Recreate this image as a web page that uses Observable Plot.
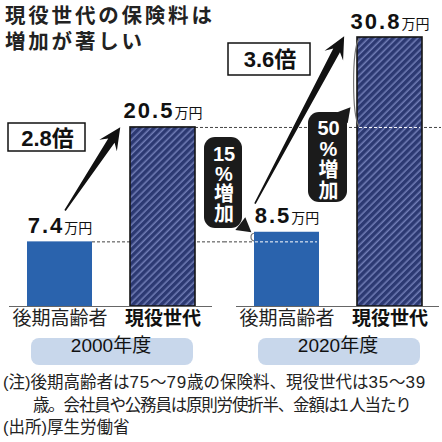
<!DOCTYPE html>
<html><head><meta charset="utf-8">
<script src="https://cdn.jsdelivr.net/npm/d3@7"></script>
<script src="https://cdn.jsdelivr.net/npm/@observablehq/plot@0.6"></script>
<style>
body{margin:0;background:#fff;font-family:"Noto Sans CJK JP",sans-serif;}
#wrap{position:relative;width:442px;height:442px;overflow:hidden;background:#fff}
.tl{position:absolute;left:5px;font-size:20.5px;letter-spacing:2.8px;line-height:21px;color:#222;font-weight:700;white-space:nowrap}
#notes{position:absolute;left:3px;top:371px;font-size:16.5px;line-height:21.5px;color:#222;white-space:nowrap;}
#notes .ind{padding-left:30px;letter-spacing:-1.2px}
#notes .num{font-family:"Liberation Sans",sans-serif;font-size:17px;letter-spacing:0.8px}
#notes .p{font-family:"Liberation Sans",sans-serif;}
</style></head><body>
<div id="wrap"><div id="chart"></div><div id="t1" class="tl" style="top:4.3px"></div><div id="t2" class="tl" style="top:29.8px"></div><div id="notes"></div></div>
<script>
// ---- data ----
const years = ["2000年度", "2020年度"];
const groups = ["後期高齢者", "現役世代"];
const premium2000 = [7.4, 20.5];
const premium2020 = [8.5, 30.8];
const unit = "万円";
const ratioText = ["2.8倍", "3.6倍"];
const increaseText = [["15", "%", "増", "加"], ["50", "%", "増", "加"]];
const titleLines = ["現役世代の保険料は", "増加が著しい"];
const noteLines = ["(注)後期高齢者は75〜79歳の保険料、現役世代は35〜39", "歳。会社員や公務員は原則労使折半、金額は1人当たり", "(出所)厚生労働省"];

// arrow annotations (from small bar label to large bar)
const arrowIds = ["a2000", "a2020"];
const arrowY1 = [10.12, 18.67];
const arrowY2 = [27.91, 40.79];
const arrowT0 = [0.049, -0.311];
const arrowT1 = [0.585, 0.555];

// ---- tables ----
const rows = [];
[premium2000, premium2020].forEach((vals, i) =>
  groups.forEach((g, j) => rows.push({year: years[i], group: g, value: vals[j]})));
const senior = rows.filter(d => d.group === groups[0]);
const working = rows.filter(d => d.group === groups[1]);
const yearRows = years.map(y => ({year: y}));
const arrows = years.map((y, i) => ({year: y, id: arrowIds[i], from: groups[0], to: groups[1], v1: arrowY1[i], v2: arrowY2[i], t0: arrowT0[i], t1: arrowT1[i]}));
const brackets = [
  {year: years[1], id: "b1", g: groups[1], a: premium2020[1], b: premium2000[1], bulge: 4.5},
  {year: years[1], id: "b2", g: groups[0], a: premium2020[0], b: premium2000[0], bulge: 2.5}
];

const FONT = "'Liberation Sans','Noto Sans CJK JP',sans-serif";
const dash = {strokeDasharray: "3,2", strokeWidth: 1};
const one = (i, extra = {}) => [{year: years[i], ...extra}];

// bubble text placement (per facet): centre offset, first line offset, line pitch
const bubbleDx = [214.5, 92];
const bubbleDy = [117, 91];
const bubblePitch = [20, 21];
const bubbleTextMarks = [];
increaseText.forEach((parts, b) => parts.forEach((t, k) => {
  bubbleTextMarks.push(Plot.text(one(b, {t}), {fx: "year", text: "t", frameAnchor: "top-left", textAnchor: "middle", lineAnchor: "middle",
    dx: bubbleDx[b], dy: bubbleDy[b] + k * bubblePitch[b], fontSize: 20, fontWeight: "bold", fill: "white"}));
}));

const chart = Plot.plot({
  width: 442, height: 372,
  marginTop: 37, marginBottom: 66, marginLeft: 8, marginRight: 2,
  style: {fontFamily: FONT, background: "transparent", overflow: "visible"},
  fx: {domain: years, paddingInner: 0.105, paddingOuter: 0, axis: null, label: null},
  x: {domain: groups, paddingInner: 0.37, paddingOuter: 0.17, axis: null, label: null},
  y: {domain: [0, 30.8], axis: null, label: null},
  marks: [
    // separator
    Plot.rect(one(0), {fx: "year", insetLeft: 214.5, insetRight: -11.5, insetTop: -4, insetBottom: -26, fill: "#9a9a9a"}),
    // grey dashed reference lines
    Plot.ruleY(one(0, {v: premium2000[0]}), {fx: "year", y: "v", insetLeft: 83, insetRight: -12, stroke: "#444", ...dash}),
    Plot.ruleY(one(0, {v: premium2000[1]}), {fx: "year", y: "v", insetLeft: 186, insetRight: -12, stroke: "#444", ...dash}),
    Plot.ruleY(one(1, {v: premium2000[0]}), {fx: "year", y: "v", insetLeft: -12, insetRight: 186, stroke: "#444", ...dash}),
    Plot.ruleY(one(1, {v: premium2000[1]}), {fx: "year", y: "v", insetLeft: -12, insetRight: -2, stroke: "#444", ...dash}),
    // bars
    Plot.barY(senior, {fx: "year", x: "group", y: "value", fill: "#2a63ad"}),
    Plot.barY(working, {fx: "year", x: "group", y: "value", fill: "url(#hatch)", stroke: "#141414", strokeWidth: 1.6}),
    // white dashed lines within 2020 bars
    Plot.ruleY(one(1, {v: premium2000[0]}), {fx: "year", y: "v", insetLeft: 19, insetRight: 122, stroke: "#fff", ...dash}),
    Plot.ruleY(one(1, {v: premium2000[1]}), {fx: "year", y: "v", insetLeft: 123, insetRight: 19, stroke: "#fff", ...dash}),
    // baseline
    Plot.ruleY([0], {stroke: "#666", strokeWidth: 1}),
    // value labels
    Plot.text(rows, {fx: "year", x: "group", y: "value", text: d => d.value.toFixed(1) + unit, lineAnchor: "bottom", dy: -9, fontSize: 22, fontWeight: "bold", fill: "#111", className: "vlabel"}),
    // category labels
    Plot.text(senior, {fx: "year", x: "group", text: "group", frameAnchor: "bottom", dy: 18, fontSize: 19, fill: "#222"}),
    Plot.text(working, {fx: "year", x: "group", text: "group", frameAnchor: "bottom", dy: 18, fontSize: 19, fontWeight: "bold", fill: "#111"}),
    // year pills
    Plot.rect(yearRows, {fx: "year", insetLeft: 22, insetRight: 19, insetTop: 301, insetBottom: -59, fill: "#c8d7eb", rx: 8}),
    Plot.text(yearRows, {fx: "year", text: "year", frameAnchor: "bottom", dy: 45, fontSize: 19, fill: "#111"}),
    // ratio boxes
    Plot.rect(one(0), {fx: "year", insetLeft: -1, insetRight: 127, insetTop: 86, insetBottom: 155, fill: "white", stroke: "#111", strokeWidth: 1.5}),
    Plot.text(one(0, {t: ratioText[0]}), {fx: "year", text: "t", frameAnchor: "top-left", textAnchor: "middle", lineAnchor: "middle", dx: 38, dy: 101, fontSize: 22, fontWeight: "bold", fill: "#111"}),
    Plot.rect(one(1), {fx: "year", insetLeft: -8, insetRight: 129, insetTop: 6, insetBottom: 231, fill: "white", stroke: "#111", strokeWidth: 1.5}),
    Plot.text(one(1, {t: ratioText[1]}), {fx: "year", text: "t", frameAnchor: "top-left", textAnchor: "middle", lineAnchor: "middle", dx: 33.5, dy: 22.5, fontSize: 22, fontWeight: "bold", fill: "#111"}),
    // big arrows (reshaped after render)
    Plot.link(arrows, {fx: "year", x1: "from", y1: "v1", x2: "to", y2: "v2", stroke: "#111", strokeWidth: 3, title: "id", className: "bigarrow"}),
    // brackets (reshaped after render)
    Plot.link(brackets, {fx: "year", x1: "g", x2: "g", y1: "a", y2: "b", stroke: "#777", strokeWidth: 1.2, title: "id", className: "bracket"}),
    // bubbles
    Plot.rect(one(0), {fx: "year", insetLeft: 195, insetRight: -30, insetTop: 100, insetBottom: 78, fill: "#1b1b1b", rx: 11}),
    Plot.dot(one(0), {fx: "year", frameAnchor: "top-left", dx: 234.5, dy: 189, symbol: "triangle", r: 6, rotate: 128, fill: "#1b1b1b"}),
    Plot.rect(one(1), {fx: "year", insetLeft: 72, insetRight: 92, insetTop: 75, insetBottom: 104, fill: "#1b1b1b", rx: 11}),
    Plot.dot(one(1), {fx: "year", frameAnchor: "top-left", dx: 108, dy: 77, symbol: "triangle", r: 6, rotate: 40, fill: "#1b1b1b"}),
    ...bubbleTextMarks
  ]
});

document.getElementById("chart").appendChild(chart);
const svg = chart.tagName.toLowerCase() === "svg" ? chart : chart.querySelector("svg");
const NS = "http://www.w3.org/2000/svg";
const defs = document.createElementNS(NS, "defs");
defs.innerHTML = '<pattern id="hatch" patternUnits="userSpaceOnUse" width="5" height="5" patternTransform="rotate(45)"><rect width="5" height="5" fill="#2c3972"/><line x1="1.2" y1="0" x2="1.2" y2="5" stroke="#7d89c2" stroke-width="1.3"/></pattern>';
svg.insertBefore(defs, svg.firstChild);

// value labels: smaller unit
svg.querySelectorAll(".vlabel text").forEach(t => {
  const s = t.textContent;
  const num = s.replace(unit, "");
  t.textContent = "";
  const a = document.createElementNS(NS, "tspan");
  a.textContent = num; a.setAttribute("letter-spacing", "2");
  const b = document.createElementNS(NS, "tspan");
  b.textContent = unit; b.setAttribute("font-size", "14"); b.setAttribute("font-weight", "normal");
  t.appendChild(a); t.appendChild(b);
});

const ends = p => {
  const n = p.getAttribute("d").match(/-?\d*\.?\d+(?:e-?\d+)?/g).map(Number);
  return [n[0], n[1], n[n.length - 2], n[n.length - 1]];
};
// big arrows: tapered filled shapes
svg.querySelectorAll(".bigarrow path").forEach(p => {
  const tt = p.querySelector("title");
  const spec = arrows.find(a => tt && a.id === tt.textContent);
  if (!spec) return;
  const [x1, y1, x2, y2] = ends(p);
  const T = [x1 + (x2 - x1) * spec.t0, y1 + (y2 - y1) * spec.t0];
  const P = [x1 + (x2 - x1) * spec.t1, y1 + (y2 - y1) * spec.t1];
  const L = Math.hypot(P[0] - T[0], P[1] - T[1]);
  const u = [(P[0] - T[0]) / L, (P[1] - T[1]) / L];
  const nn = [-u[1], u[0]];
  const H = 22, W = 10.5, ws = 3.8, wt = 0.8;
  const pt = (base, along, side) => [base[0] + u[0] * along + nn[0] * side, base[1] + u[1] * along + nn[1] * side];
  const poly = [P, pt(P, -H, W), pt(P, -H + 6, ws), pt(T, 0, wt), pt(T, 0, -wt), pt(P, -H + 6, -ws), pt(P, -H, -W)];
  p.setAttribute("d", "M" + poly.map(q => q[0].toFixed(2) + "," + q[1].toFixed(2)).join("L") + "Z");
  p.setAttribute("fill", "#111");
  p.setAttribute("stroke", "none");
});
// brackets: "(" shaped curves at the left edge of the bar
svg.querySelectorAll(".bracket path").forEach(p => {
  const tt = p.querySelector("title");
  const spec = brackets.find(a => tt && a.id === tt.textContent);
  if (!spec) return;
  const [x1, y1, x2, y2] = ends(p);
  const x = x1 - 34 - 1.5;
  const k = spec.bulge;
  p.setAttribute("d", `M${x + k},${y1 + 1}C${x - k * 0.6},${y1 + (y2 - y1) * 0.15} ${x - k * 0.6},${y2 - (y2 - y1) * 0.15} ${x + k},${y2 - 1}`);
  p.setAttribute("fill", "none");
});

document.getElementById("t1").textContent = titleLines[0];
document.getElementById("t2").textContent = titleLines[1];
const fmt = s => s.replace(/[0-9]+/g, m => `<span class="num">${m}</span>`).replace(/[()]/g, m => `<span class="p">${m}</span>`);
document.getElementById("notes").innerHTML =
  `<div>${fmt(noteLines[0])}</div><div class="ind">${fmt(noteLines[1])}</div><div>${fmt(noteLines[2])}</div>`;
</script>
</body></html>
